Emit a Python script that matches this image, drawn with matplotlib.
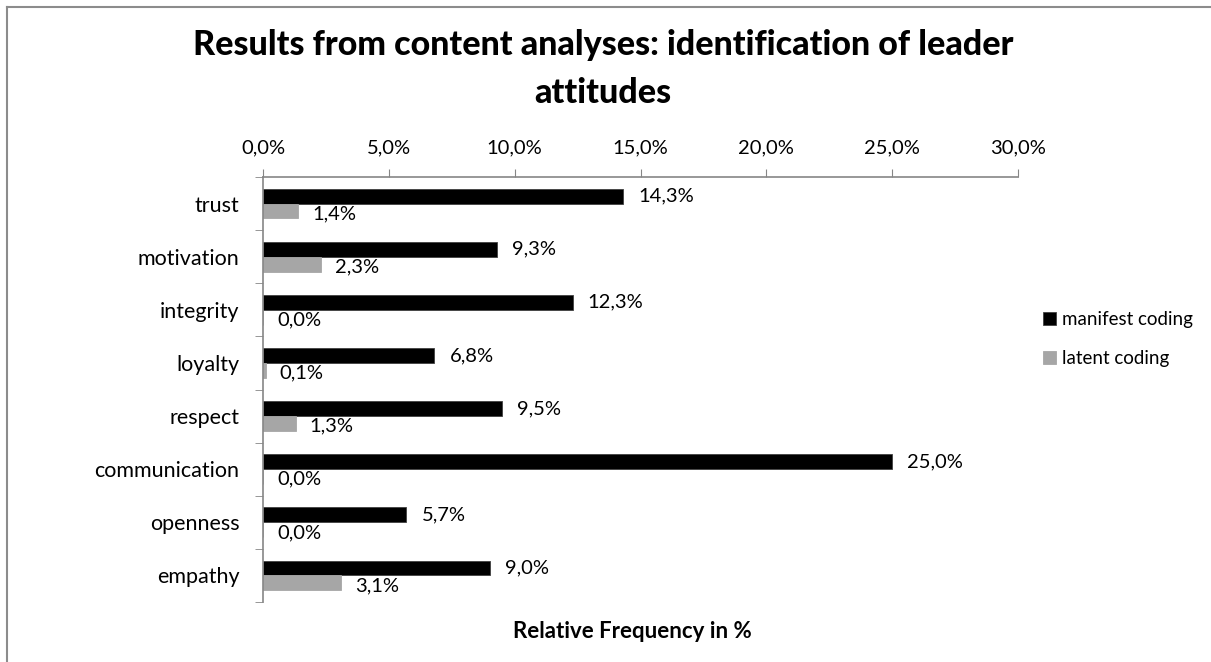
import numpy as np
import matplotlib.pyplot as plt
from matplotlib.lines import Line2D

# attitudes coded in the content analyses (top to bottom)
categories = ['trust', 'motivation', 'integrity', 'loyalty', 'respect',
              'communication', 'openness', 'empathy']
manifest = [14.3, 9.3, 12.3, 6.8, 9.5, 25.0, 5.7, 9.0]
latent = [1.4, 2.3, 0.0, 0.1, 1.3, 0.0, 0.0, 3.1]
xticks = [0, 5, 10, 15, 20, 25, 30]

plt.rcParams['font.family'] = ['Lato', 'DejaVu Sans']

fig = plt.figure(figsize=(12.11, 6.62), dpi=100)
ax = fig.add_axes([263 / 1211, 1 - 602 / 662, 755 / 1211, 425 / 662])

y = np.arange(len(categories))
h = 0.28
ax.barh(y - h / 2, manifest, height=h, color='black', edgecolor='#404040', linewidth=0.6,
        label='manifest coding')
ax.barh(y + h / 2, latent, height=h, color='#a6a6a6', edgecolor='#a6a6a6', linewidth=0.6,
        label='latent coding')

def pct(v):
    return f'{v:.1f}%'.replace('.', ',')

for yi, m, l in zip(y, manifest, latent):
    ax.annotate(pct(m), (m, yi - h / 2), xytext=(11, 0), textcoords='offset points',
                va='center', ha='left', fontsize=14.5)
    ax.annotate(pct(l), (l, yi + h / 2 + 0.05), xytext=(10, 0), textcoords='offset points',
                va='center', ha='left', fontsize=14.5)

ax.set_xlim(0, 30)
ax.set_ylim(len(categories) - 0.5, -0.5)
ax.set_xticks(xticks)
ax.set_xticklabels([pct(t) for t in xticks], fontsize=14.5)
ax.xaxis.tick_top()
ax.tick_params(axis='x', direction='out', length=6, color='#868686', pad=9)

ax.set_yticks(y)
ax.set_yticklabels(categories, fontsize=15.5)
ax.set_yticks(np.arange(len(categories) + 1) - 0.5, minor=True)
ax.tick_params(axis='y', which='major', length=0, pad=17)
ax.tick_params(axis='y', which='minor', direction='out', length=6, color='#868686')

for side in ['right', 'bottom']:
    ax.spines[side].set_visible(False)
for side in ['top', 'left']:
    ax.spines[side].set_color('#868686')
    ax.spines[side].set_linewidth(1.2)

fig.text(632 / 1211, 1 - 632 / 662, 'Relative Frequency in %', ha='center', va='center',
         fontsize=16, fontweight='bold')

fig.text(603 / 1211, 1 - 69 / 662,
         'Results from content analyses: identification of leader\nattitudes',
         ha='center', va='center', fontsize=24.5, fontweight='black', linespacing=1.6)

fig.legend(loc='center left', bbox_to_anchor=(1026 / 1211, 1 - 339 / 662), frameon=False,
           fontsize=13.5, handlelength=0.7, handleheight=0.7, handletextpad=0.3,
           labelspacing=1.15)

# outer chart frame
fig.add_artist(Line2D([7 / 1211, 1], [1 - 7 / 662, 1 - 7 / 662], color='#8c8c8c', lw=1.5))
fig.add_artist(Line2D([7 / 1211, 7 / 1211], [0, 1 - 7 / 662], color='#8c8c8c', lw=1.5))

fig.savefig('out.png', dpi=100)
